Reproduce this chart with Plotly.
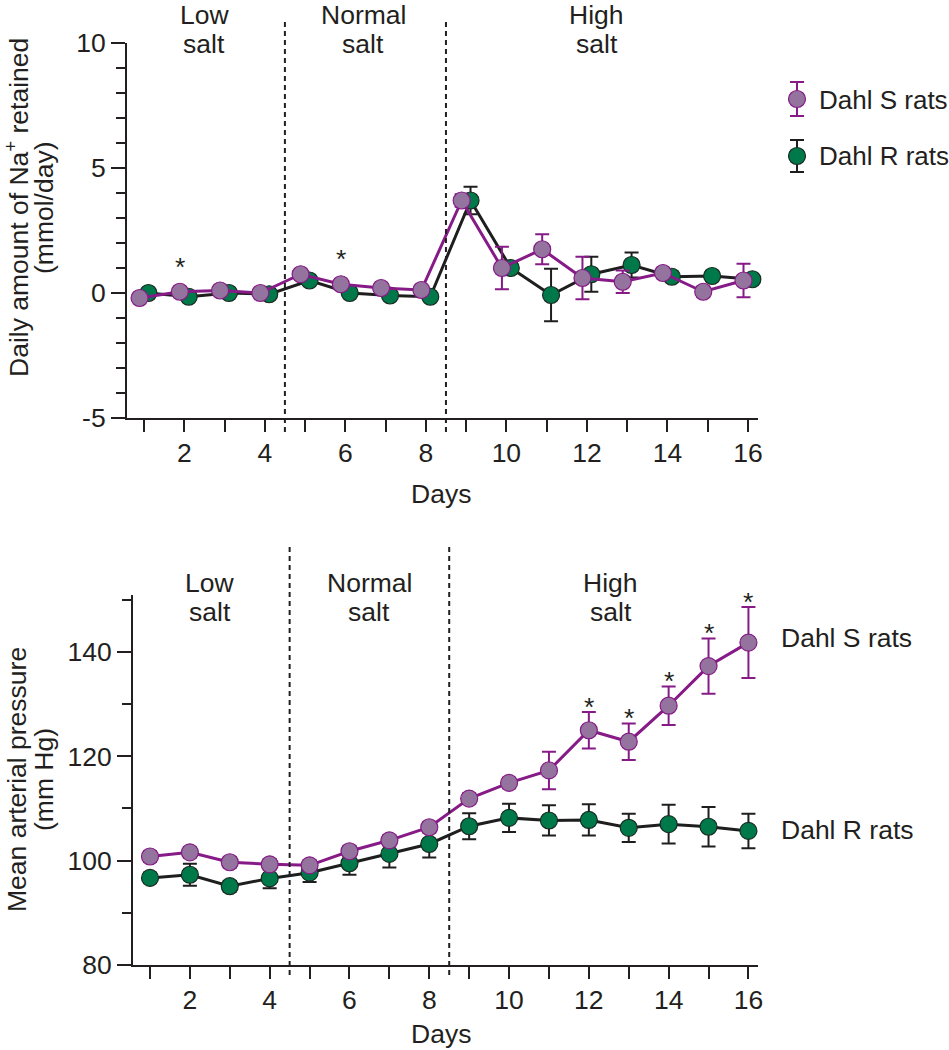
import plotly.graph_objects as go

W, H = 949, 1050

# ---------------- data ----------------
days = list(range(1, 17))
even_days = [d for d in days if d % 2 == 0]

# Daily Na+ retained (mmol/day)
s_na = [-0.2, 0.05, 0.1, 0.0, 0.75, 0.35, 0.2, 0.12, 3.7, 1.0, 1.75, 0.6, 0.45, 0.8, 0.05, 0.5]
s_na_err = [0.1, 0.1, 0.1, 0.1, 0.1, 0.1, 0.1, 0.1, 0.25, 0.85, 0.6, 0.85, 0.45, 0.2, 0.2, 0.67]
r_na = [0.0, -0.15, 0.0, -0.05, 0.5, 0.0, -0.1, -0.15, 3.7, 1.0, -0.08, 0.75, 1.12, 0.65, 0.68, 0.55]
r_na_err = [0.1, 0.1, 0.1, 0.1, 0.1, 0.1, 0.1, 0.1, 0.55, 0.2, 1.05, 0.7, 0.5, 0.2, 0.2, 0.2]
na_star_days = [2, 6]
na_ticks = [-5, 0, 5, 10]
na_ticktext = ["-5", "0", "5", "10"]

# Mean arterial pressure (mm Hg)
s_map = [100.8, 101.6, 99.7, 99.3, 99.1, 101.8, 103.9, 106.4, 111.9, 114.9, 117.3, 125.0, 122.8, 129.7, 137.3, 141.8]
s_map_err = [1.0, 1.0, 1.0, 1.0, 1.0, 1.0, 1.0, 1.0, 1.0, 1.0, 3.6, 3.5, 3.5, 3.7, 5.3, 6.8]
r_map = [96.7, 97.3, 95.1, 96.6, 97.7, 99.5, 101.3, 103.2, 106.6, 108.2, 107.7, 107.8, 106.3, 107.0, 106.5, 105.7]
r_map_err = [1.0, 2.1, 1.0, 1.9, 1.8, 2.2, 2.6, 2.6, 2.5, 2.7, 2.9, 3.0, 2.7, 3.7, 3.8, 3.3]
map_star_days = [12, 13, 14, 15, 16]
map_ticks = [80, 100, 120, 140]

boundaries = [4.5, 8.5]
diet_names = ["Low", "Normal", "High"]
diet_pos_top = [2.5, 6.45, 12.25]
diet_pos_bot = [2.5, 6.5, 12.55]
series_names = ["Dahl S rats", "Dahl R rats"]

# ---------------- style ----------------
FONT = "Liberation Sans, Arial, Helvetica, sans-serif"
TXT = "#231F20"
FS = 26.5
FS_YT = 26.5
FS_LEG = 26
P_LINE = "#861A86"
P_FILL = "#94739E"
G_FILL = "#00794A"
G_EDGE = "#1A2A22"
K_LINE = "#1E1E1E"
OFF = 0.11  # horizontal dodge in top panel


def px_x(p):
    return p / W


def px_y(p):
    return 1 - p / H


fig = go.Figure()


def add_series(xv, yv, err, line_col, fill, edge, xa, ya, name):
    fig.add_trace(go.Scatter(
        x=xv, y=yv, mode="lines+markers", name=name, showlegend=False,
        xaxis=xa, yaxis=ya, cliponaxis=False,
        line=dict(color=line_col, width=3),
        marker=dict(size=17, color=fill, line=dict(color=edge, width=1.2)),
        error_y=dict(type="data", array=err, visible=True, color=line_col,
                     thickness=2, width=7),
    ))


# top panel (R first so S is drawn on top)
add_series([d + OFF for d in days], r_na, r_na_err, K_LINE, G_FILL, G_EDGE, "x", "y", series_names[1])
add_series([d - OFF for d in days], s_na, s_na_err, P_LINE, P_FILL, P_LINE, "x", "y", series_names[0])
# bottom panel
add_series(days, r_map, r_map_err, K_LINE, G_FILL, G_EDGE, "x2", "y2", series_names[1])
add_series(days, s_map, s_map_err, P_LINE, P_FILL, P_LINE, "x2", "y2", series_names[0])

# legend keys (with error bars) in a small hidden axis
fig.add_trace(go.Scatter(
    x=[0], y=[1], mode="markers", xaxis="x3", yaxis="y3", showlegend=False, cliponaxis=False,
    marker=dict(size=17, color=P_FILL, line=dict(color=P_LINE, width=1.2)),
    error_y=dict(type="data", array=[0.3], visible=True, color=P_LINE, thickness=2, width=7)))
fig.add_trace(go.Scatter(
    x=[0], y=[0], mode="markers", xaxis="x3", yaxis="y3", showlegend=False, cliponaxis=False,
    marker=dict(size=17, color=G_FILL, line=dict(color=G_EDGE, width=1.2)),
    error_y=dict(type="data", array=[0.28], visible=True, color=K_LINE, thickness=2, width=7)))

ax_common = dict(showline=True, linewidth=2, linecolor=TXT, showgrid=False, zeroline=False,
                 ticks="outside", tickwidth=2, tickcolor=TXT, automargin=False,
                 tickfont=dict(family=FONT, size=FS, color=TXT))

xminor = dict(dtick=1, tick0=1, ticklen=12, tickwidth=2, tickcolor=TXT, ticks="outside")

fig.update_layout(
    width=W, height=H, margin=dict(l=0, r=0, t=0, b=0, autoexpand=False),
    paper_bgcolor="white", plot_bgcolor="white",
    font=dict(family=FONT, size=FS, color=TXT),
    xaxis=dict(ax_common, domain=[px_x(127), px_x(758)], range=[0.578, 16.25], anchor="y",
               tickvals=even_days, ticklen=12, ticklabelstandoff=-2, minor=xminor),
    yaxis=dict(ax_common, domain=[px_y(418), px_y(43)], range=[-5, 10], anchor="x",
               tickvals=na_ticks, ticktext=na_ticktext, ticklen=14, ticklabelstandoff=0,
               minor=dict(dtick=1, ticklen=9, tickwidth=2, tickcolor=TXT, ticks="outside")),
    xaxis2=dict(ax_common, domain=[px_x(133), px_x(758)], range=[0.574, 16.24], anchor="y2",
                tickvals=even_days, ticklen=12, ticklabelstandoff=-2, minor=xminor),
    yaxis2=dict(ax_common, domain=[px_y(965), px_y(594.6)], range=[80, 151], anchor="x2",
                tickvals=map_ticks, ticklen=14, ticklabelstandoff=0,
                minor=dict(dtick=10, ticklen=9, tickwidth=2, tickcolor=TXT, ticks="outside")),
    xaxis3=dict(domain=[px_x(787), px_x(807)], range=[-1, 1], visible=False, anchor="y3"),
    yaxis3=dict(domain=[px_y(184.5), px_y(70.5)], range=[-0.5, 1.5], visible=False, anchor="x3"),
)

shapes = []
for b in boundaries:
    shapes.append(dict(type="line", xref="x", yref="paper", x0=b, x1=b,
                       y0=px_y(432), y1=px_y(22), line=dict(color=TXT, width=2, dash="5px,4px")))
    shapes.append(dict(type="line", xref="x2", yref="paper", x0=b, x1=b,
                       y0=px_y(975), y1=px_y(545), line=dict(color=TXT, width=2, dash="5px,4px")))
fig.update_layout(shapes=shapes)

ann = []


def txt(x, y, s, xref="paper", yref="paper", size=FS, **kw):
    d = dict(x=x, y=y, xref=xref, yref=yref, text=s, showarrow=False,
             font=dict(family=FONT, size=size, color=TXT), xanchor="center", yanchor="middle")
    d.update(kw)
    ann.append(d)


# diet labels
for name, xt, xb in zip(diet_names, diet_pos_top, diet_pos_bot):
    txt(xt, px_y(15), name, xref="x")
    txt(xt, px_y(44), "salt", xref="x")
    txt(xb, px_y(583), name, xref="x2")
    txt(xb, px_y(612), "salt", xref="x2")

# x titles
txt(px_x(441), px_y(494), "Days")
txt(px_x(441), px_y(1034), "Days")

# y titles
txt(px_x(17), px_y(208), "Daily amount of Na<sup>+</sup> retained", size=FS_YT, textangle=-90)
txt(px_x(44), px_y(208), "(mmol/day)", size=FS_YT, textangle=-90)
txt(px_x(17), px_y(780), "Mean arterial pressure", size=FS_YT, textangle=-90)
txt(px_x(44), px_y(780), "(mm Hg)", size=FS_YT, textangle=-90)

# legend text
txt(px_x(817), px_y(100), series_names[0], size=FS_LEG, xanchor="left")
txt(px_x(817), px_y(156), series_names[1], size=FS_LEG, xanchor="left")

# right-hand series labels in bottom panel
txt(px_x(779), px_y(638), series_names[0], xanchor="left")
txt(px_x(779), px_y(830), series_names[1], xanchor="left")

# significance stars
for d in na_star_days:
    i = days.index(d)
    txt(d - OFF, s_na[i], "*", xref="x", yref="y", yanchor="bottom", yshift=8)
for d in map_star_days:
    i = days.index(d)
    txt(d, s_map[i] + s_map_err[i], "*", xref="x2", yref="y2", yanchor="bottom", yshift=-12)

fig.update_layout(annotations=ann)

fig.write_html(
    "out.html",
    config={"displayModeBar": False},
    post_script="document.body.style.margin='0px';document.body.style.overflow='hidden';",
)
